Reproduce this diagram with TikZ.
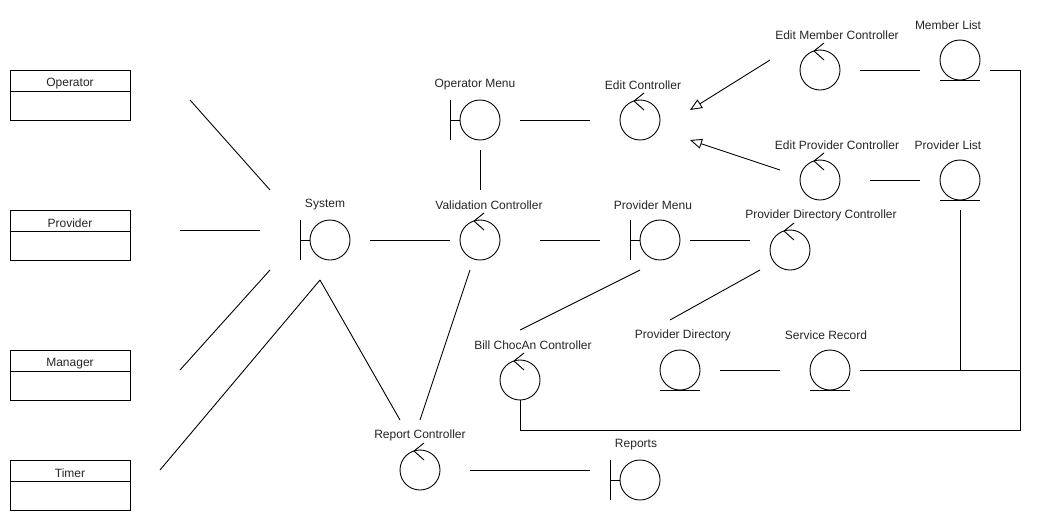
\documentclass[tikz,border=0pt]{standalone}
\usepackage{fontspec}
\setmainfont{Liberation Sans}
\usetikzlibrary{calc,arrows.meta}
\tikzset{
  ln/.style={line width=0.9pt, draw=black},
  obj/.style={circle, ln, minimum size=40pt, inner sep=0pt},
  lbl/.style={font=\fontsize{12}{14}\selectfont, inner sep=0pt, text=black!85, yshift=-3pt},
  clsbox/.style={rectangle, ln, minimum width=120pt, minimum height=50pt, inner sep=0pt},
  gen/.style={ln, -{Triangle[open, length=12pt, width=10pt, line width=0.9pt]}},
}
\newcommand\bdrymark[1]{\draw[ln] ($(#1)+(-30,-20)$) -- ($(#1)+(-30,20)$); \draw[ln] ($(#1)+(-30,0)$) -- (#1.west);}
\newcommand\ctrlmark[1]{\draw[ln] ($(#1)+(4,-27)$) -- ($(#1)+(-6,-19)$) -- ($(#1)+(4,-10)$);}
\newcommand\entmark[1]{\draw[ln] ($(#1)+(-20,20)$) -- ($(#1)+(20,20)$);}
\newcommand\clsdiv[2]{\draw[ln] ($(#1.north west)+(0,22)$) -- ($(#1.north east)+(0,22)$); \node[lbl] at ($(#1.north)+(0,11)$) {#2};}
\begin{document}
\begin{tikzpicture}[x=1pt, y=-1pt]
\useasboundingbox (0,0) rectangle (1050,520);
\fill[white] (0,0) rectangle (1050,520);

% class boxes
\node[clsbox] (op) at (70,95) {};  \clsdiv{op}{Operator}
\node[clsbox] (pv) at (70,235) {}; \clsdiv{pv}{Provider}
\node[clsbox] (mg) at (70,375) {}; \clsdiv{mg}{Manager}
\node[clsbox] (tm) at (70,485) {}; \clsdiv{tm}{Timer}

% boundaries
\node[obj] (sys) at (330,240) {}; \bdrymark{sys}
\node[lbl] at (325,202) {System};
\node[obj] (opm) at (480,120) {}; \bdrymark{opm}
\node[lbl] at (475,82) {Operator Menu};
\node[obj] (pm) at (660,240) {}; \bdrymark{pm}
\node[lbl] at (653,202) {Provider Menu};
\node[obj] (rep) at (640,480) {}; \bdrymark{rep}
\node[lbl] at (636,442) {Reports};

% controls
\node[obj] (val) at (480,240) {}; \ctrlmark{val}
\node[lbl] at (489,202) {Validation Controller};
\node[obj] (edc) at (640,120) {}; \ctrlmark{edc}
\node[lbl] at (643,82) {Edit Controller};
\node[obj] (emc) at (820,70) {}; \ctrlmark{emc}
\node[lbl] at (837,32) {Edit Member Controller};
\node[obj] (epc) at (820,180) {}; \ctrlmark{epc}
\node[lbl] at (837,142) {Edit Provider Controller};
\node[obj] (pdc) at (790,250) {}; \ctrlmark{pdc}
\node[lbl] at (821,212) {Provider Directory Controller};
\node[obj] (bcc) at (520,380) {}; \ctrlmark{bcc}
\node[lbl] at (533,342) {Bill ChocAn Controller};
\node[obj] (rc) at (420,470) {}; \ctrlmark{rc}
\node[lbl] at (420,432) {Report Controller};

% entities
\node[obj] (ml) at (960,60) {}; \entmark{ml}
\node[lbl] at (948,22) {Member List};
\node[obj] (pl) at (960,180) {}; \entmark{pl}
\node[lbl] at (948,142) {Provider List};
\node[obj] (pd) at (680,370) {}; \entmark{pd}
\node[lbl] at (683,332) {Provider Directory};
\node[obj] (sr) at (830,370) {}; \entmark{sr}
\node[lbl] at (826,332) {Service Record};

\coordinate (jr) at (1020,370);
\coordinate (jl) at (960,370);

% connectors
\draw[ln] ($(op)+(120,5)$) -- ($(sys)+(-60,-50)$);
\draw[ln] ($(pv)+(110,-5)$) -- ($(sys)+(-70,-10)$);
\draw[ln] ($(mg)+(110,-5)$) -- ($(sys)+(-60,30)$);
\draw[ln] ($(tm)+(90,-15)$) -- ($(sys)+(-10,40)$);
\draw[ln] ($(sys)+(-10,40)$) -- ($(rc)+(-20,-50)$);
\draw[ln] ($(sys)+(40,0)$) -- ($(val)+(-30,0)$);
\draw[ln] ($(opm)+(0,30)$) -- ($(val)+(0,-50)$);
\draw[ln] ($(val)+(-10,30)$) -- ($(rc)+(0,-50)$);
\draw[ln] ($(val)+(60,0)$) -- ($(pm)+(-60,0)$);
\draw[ln] ($(opm)+(40,0)$) -- ($(edc)+(-50,0)$);
\draw[gen] ($(emc)+(-50,-10)$) -- ($(edc)+(50,-10)$);
\draw[gen] ($(epc)+(-40,-10)$) -- ($(edc)+(50,20)$);
\draw[ln] ($(emc)+(40,0)$) -- ($(ml)+(-40,10)$);
\draw[ln] ($(epc)+(50,0)$) -- ($(pl)+(-40,0)$);
\draw[ln] ($(pm)+(30,0)$) -- ($(pdc)+(-40,-10)$);
\draw[ln] ($(pm)+(-20,30)$) -- ($(bcc)+(0,-50)$);
\draw[ln] ($(pdc)+(-30,20)$) -- ($(pd)+(-10,-50)$);
\draw[ln] ($(pd)+(40,0)$) -- ($(sr)+(-50,0)$);
\draw[ln] ($(sr)+(30,0)$) -- (jr);
\draw[ln] ($(pl)+(0,30)$) -- (jl);
\draw[ln] ($(ml)+(30,10)$) -- (1020,70) -- (1020,430) -- (520,430) -- (bcc.south);
\draw[ln] ($(rc)+(50,0)$) -- ($(rep)+(-50,-10)$);
\end{tikzpicture}
\end{document}
